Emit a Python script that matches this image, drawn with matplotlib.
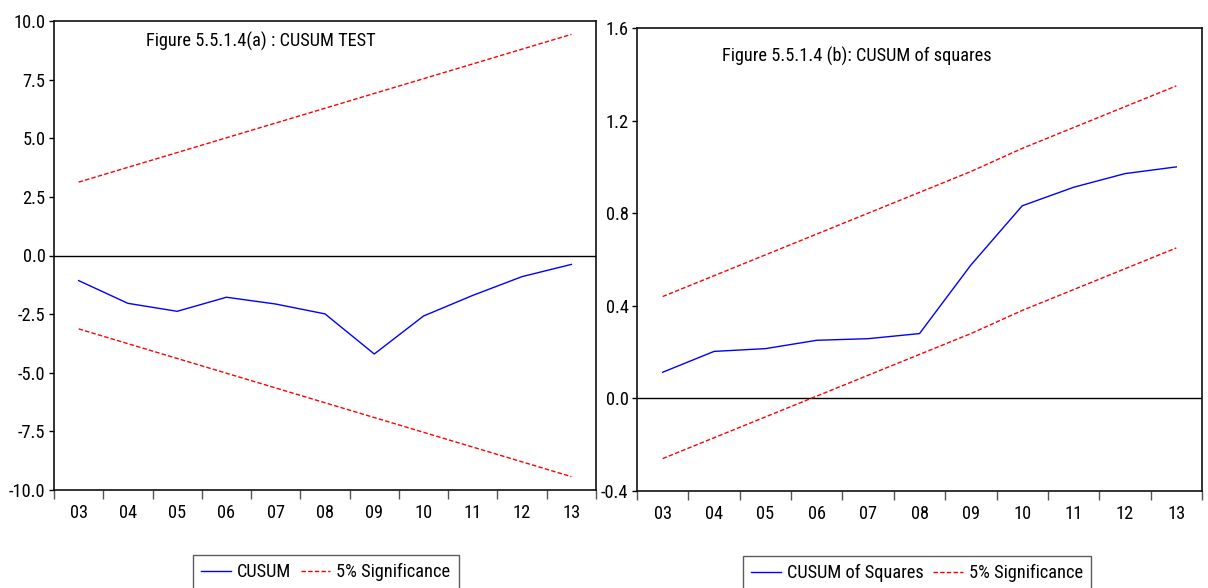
import matplotlib
matplotlib.use("Agg")
import matplotlib.pyplot as plt
from matplotlib import font_manager as fm
import numpy as np

years = ["03", "04", "05", "06", "07", "08", "09", "10", "11", "12", "13"]

cusum = [-1.07, -2.04, -2.38, -1.78, -2.07, -2.49, -4.20, -2.58, -1.70, -0.90, -0.38]
cusum_upper = [3.13, 3.76, 4.39, 5.02, 5.65, 6.28, 6.91, 7.54, 8.17, 8.80, 9.43]
cusum_lower = [-3.13, -3.76, -4.39, -5.02, -5.65, -6.28, -6.91, -7.54, -8.17, -8.80, -9.43]

cusumsq = [0.113, 0.203, 0.215, 0.251, 0.258, 0.280, 0.576, 0.832, 0.912, 0.971, 1.000]
cusumsq_upper = [0.44, 0.53, 0.62, 0.71, 0.80, 0.89, 0.98, 1.08, 1.17, 1.26, 1.35]
cusumsq_lower = [-0.26, -0.17, -0.08, 0.01, 0.10, 0.19, 0.28, 0.38, 0.47, 0.56, 0.65]

left_yticks = [-10.0, -7.5, -5.0, -2.5, 0.0, 2.5, 5.0, 7.5, 10.0]
right_yticks = [-0.4, 0.0, 0.4, 0.8, 1.2, 1.6]

title_a = "Figure 5.5.1.4(a) : CUSUM TEST"
title_b = "Figure 5.5.1.4 (b): CUSUM of squares"

# ---- pick a narrow font if one is installed ----
available = {(f.name, f.stretch) for f in fm.fontManager.ttflist}
cands = [("Liberation Sans Narrow", "normal"), ("Liberation Sans Narrow", "condensed"),
         ("Roboto Condensed", "normal"), ("Roboto Condensed", "condensed"),
         ("Open Sans Condensed", "normal"), ("Open Sans Condensed", "condensed"),
         ("DejaVu Sans", "condensed"), ("Liberation Sans", "normal")]
family, stretch = "Liberation Sans", "normal"
for name, st in cands:
    if (name, st) in available:
        family, stretch = name, st
        break

W, H = 1208, 588
fig = plt.figure(figsize=(W / 100, H / 100), dpi=100)

# calibrate font size so the title width matches the reference (229 px)
renderer = fig.canvas.get_renderer()
probe = fig.text(0, 0, title_a, fontproperties=fm.FontProperties(family=family, stretch=stretch, size=13))
wpx = probe.get_window_extent(renderer).width
probe.remove()
FS = min(13.5, 13 * 229.0 / wpx)
fp = fm.FontProperties(family=family, stretch=stretch, size=FS)


def px_axes(x0, x1, ytop, ybot):
    return fig.add_axes([x0 / W, 1 - ybot / H, (x1 - x0) / W, (ybot - ytop) / H])


ax1 = px_axes(54, 596, 21, 490)
ax2 = px_axes(637, 1202, 28, 491)

DASH = (0, (3.2, 1.6))
x = np.arange(len(years))


def style(ax, yticks, fmt, ylim):
    ax.set_xlim(-0.5, len(years) - 0.5)
    ax.set_ylim(*ylim)
    ax.set_xticks(np.arange(len(years) + 1) - 0.5)
    ax.set_xticklabels([""] * (len(years) + 1))
    ax.set_xticks(x, minor=True)
    ax.set_xticklabels(years, minor=True, fontproperties=fp)
    ax.tick_params(axis='x', which='major', direction='out', length=6.5, width=1, color='#555555')
    ax.tick_params(axis='x', which='minor', length=0, pad=10)
    ax.set_yticks(yticks)
    ax.set_yticklabels([fmt.format(v) for v in yticks], fontproperties=fp)
    ax.tick_params(axis='y', which='major', direction='out', length=3.6, width=1, pad=2.5)
    for s in ax.spines.values():
        s.set_linewidth(1.2)
        s.set_color('#111111')
    ax.axhline(0, color='black', lw=1.0, zorder=1)


l1, = ax1.plot(x, cusum, color='#0000FF', lw=1.0, label='CUSUM')
l2, = ax1.plot(x, cusum_upper, color='#FF0000', lw=1.0, linestyle=DASH, label='5% Significance')
ax1.plot(x, cusum_lower, color='#FF0000', lw=1.0, linestyle=DASH)
style(ax1, left_yticks, "{:.1f}", (-10, 10))

r1, = ax2.plot(x, cusumsq, color='#0000FF', lw=1.0, label='CUSUM of Squares')
r2, = ax2.plot(x, cusumsq_upper, color='#FF0000', lw=1.0, linestyle=DASH, label='5% Significance')
ax2.plot(x, cusumsq_lower, color='#FF0000', lw=1.0, linestyle=DASH)
style(ax2, right_yticks, "{:.1f}", (-0.4, 1.6))

fig.text(146 / W, 1 - 41 / H, title_a, fontproperties=fp, va='center', ha='left')
fig.text(722 / W, 1 - 56 / H, title_b, fontproperties=fp, va='center', ha='left')

legkw = dict(loc='upper left', ncol=2, prop=fp, frameon=True, fancybox=False,
             edgecolor='#333333', handlelength=1.6, handletextpad=0.35,
             columnspacing=0.5, borderpad=0.45, borderaxespad=0)
lg1 = fig.legend(handles=[l1, l2], bbox_to_anchor=(193 / W, 1 - 555 / H), **legkw)
lg2 = fig.legend(handles=[r1, r2], bbox_to_anchor=(743 / W, 1 - 556 / H), **legkw)
for lg in (lg1, lg2):
    lg.get_frame().set_linewidth(1.0)

fig.savefig("out.png", dpi=100)
